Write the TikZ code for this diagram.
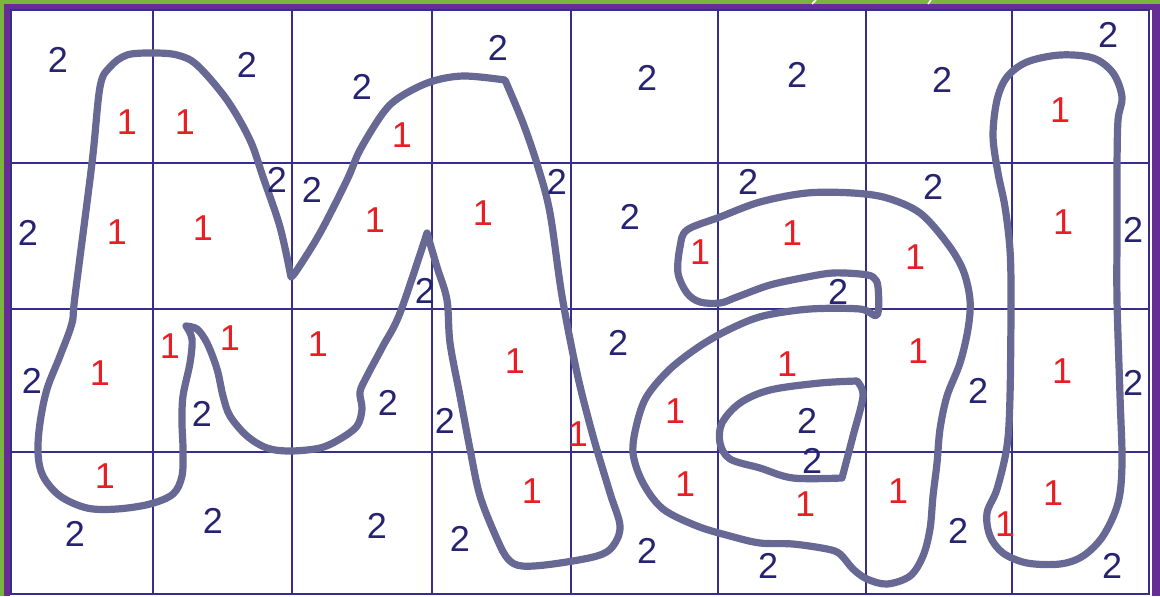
\documentclass[tikz,border=0pt]{standalone}
\usepackage{fontspec}
\setmainfont{Liberation Sans}
\definecolor{bgreen}{RGB}{122,182,60}
\definecolor{bpurple}{RGB}{102,45,148}
\definecolor{gridc}{RGB}{55,45,140}
\definecolor{strokec}{RGB}{104,104,148}
\definecolor{twoc}{RGB}{38,35,112}
\definecolor{onec}{RGB}{232,30,36}
\begin{document}
\begin{tikzpicture}[x=0.5pt,y=-0.5pt,
  two/.style={text=twoc,font=\fontsize{18}{18}\selectfont,inner sep=0pt},
  one/.style={text=onec,font=\fontsize{18}{18}\selectfont,inner sep=0pt},
  gridline/.style={draw=gridc,line width=0.65pt},
  letter/.style={draw=strokec,line width=3.6pt,line cap=round,line join=round}]
\useasboundingbox (0,0) rectangle (1160,596);
% frame
\fill[bgreen] (0,0) rectangle (1160,596);
\fill[bpurple] (4,4) rectangle (1160,596);
\fill[white] (10,10) rectangle (1152,596);
\draw[white,line width=0.8pt] (812,4) -- (816,0);
\draw[white,line width=0.8pt] (928,4) -- (931,0);
% grid
\draw[gridline] (11,10) rectangle (1149,594);
\foreach \gx in {153,292,432,571,718,866,1012}
  \draw[gridline] (\gx,10) -- (\gx,594);
\foreach \gy in {163,309,452}
  \draw[gridline] (11,\gy) -- (1149,\gy);
% M
\draw[letter]
  plot[smooth,tension=0.55] coordinates {(291,277) (280,227) (263,177) (250,140) (227,100) (197,65) (177,55) (153,53) (127,55) (110,67) (100,87) (92,163) (75,296) (72,323) (60,356) (47,389) (40,423) (38,453) (43,476) (60,496) (87,508) (117,509) (150,504) (173,494) (182,476) (183,449) (182,423) (183,396) (190,363) (192,339) (186,326)}
  -- plot[smooth,tension=0.55] coordinates {(186,326) (197,329) (207,343) (217,369) (223,396) (230,416) (247,436) (267,448) (290,451) (320,448) (340,439) (357,426) (362,409) (360,392) (367,376) (383,346) (400,313) (427,233)}
  -- plot[smooth,tension=0.55] coordinates {(427,233) (437,267) (447,300) (450,343) (460,396) (470,449) (480,496) (497,539) (508,559) (522,566) (553,564) (597,556) (613,546) (620,526) (610,493) (593,436) (577,373) (562,296) (550,213) (538,167) (523,123) (505,80)}
  -- plot[smooth,tension=0.55] coordinates {(505,80) (463,76) (430,82) (400,97) (383,113) (360,150) (347,180) (320,233) (297,270) (291,277)}
  -- cycle;
% a outer
\draw[letter]
  plot[smooth cycle,tension=0.55] coordinates {(878,287) (873,277) (860,274) (833,273) (807,277) (770,285) (737,297) (720,303) (700,302) (687,293) (678,273) (680,247) (687,230) (720,217) (760,202) (807,193) (853,193) (887,198) (920,213) (947,243) (963,270) (970,300) (968,329) (960,363) (947,396) (940,429) (937,463) (933,496) (930,529) (923,556) (910,576) (887,584) (867,579) (853,569) (840,554) (827,549) (793,544) (760,543) (730,536) (697,526) (663,509) (643,483) (633,453) (637,423) (647,396) (670,369) (700,346) (730,329) (763,316) (810,309) (860,309) (877,315)};
% a inner
\draw[letter]
  plot[smooth,tension=0.55] coordinates {(857,381) (863,396) (853,436) (842,478)}
  -- plot[smooth,tension=0.55] coordinates {(842,478) (793,478) (760,468) (730,459) (720,443) (722,423) (740,403) (770,390) (820,383) (857,381)}
  -- cycle;
% l
\draw[letter]
  plot[smooth cycle,tension=0.55] coordinates {(993,136) (997,100) (1007,77) (1027,62) (1060,55) (1093,58) (1113,73) (1122,97) (1118,120) (1117,167) (1117,233) (1117,300) (1120,396) (1122,463) (1118,503) (1103,536) (1083,556) (1060,564) (1027,563) (1003,553) (990,536) (987,513) (997,489) (1007,446) (1010,396) (1011,300) (1010,250) (1005,207) (998,173)};
% numbers 2
\foreach \x/\y [count=\i] in {58/60,247/65,362/87,498/48,647/78,797/75,942/80,1108/35,
  277/180,312/190,28/233,557/182,630/217,748/182,933/187,1133/230,
  425/291,838/292,
  32/381,202/414,388/403,445/421,618/343,978/391,1133/383,807/421,812/461,
  75/534,213/521,377/526,460/539,647/551,768/566,958/531,1112/566}
  \node[two] (t\i) at (\x,\y) {2};
% numbers 1
\foreach \x/\y [count=\i] in {127/122,185/122,402/135,1060/110,
  117/232,203/228,375/220,483/213,700/252,792/233,915/257,1063/222,
  100/373,170/346,230/338,318/344,515/361,787/364,918/351,1062/371,675/411,578/434,
  105/476,532/491,685/484,805/504,898/491,1053/493,1005/524}
  \node[one] (o\i) at (\x,\y) {1};
\end{tikzpicture}
\end{document}
